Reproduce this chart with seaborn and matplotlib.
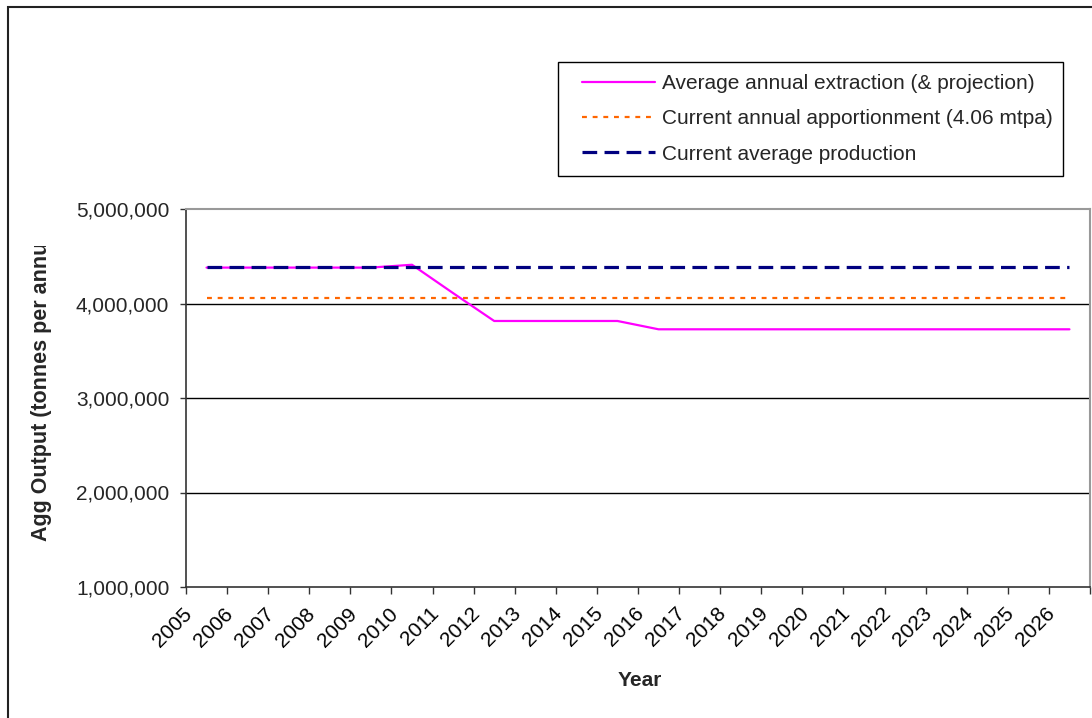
import numpy as np
import pandas as pd
import matplotlib
matplotlib.use("Agg")
import matplotlib.pyplot as plt
import matplotlib.patches as mpatches
import matplotlib.transforms as mtransforms
from matplotlib.ticker import FuncFormatter, FixedLocator
import seaborn as sns

# ---- data -------------------------------------------------------------
years = [2005, 2006, 2007, 2008, 2009, 2010, 2011, 2012, 2013, 2014, 2015,
         2016, 2017, 2018, 2019, 2020, 2021, 2022, 2023, 2024, 2025, 2026]
extraction = [4380000, 4380000, 4380000, 4380000, 4380000, 4410000, 4110000,
              3815000, 3815000, 3815000, 3815000, 3727000, 3727000, 3727000,
              3727000, 3727000, 3727000, 3727000, 3727000, 3727000, 3727000,
              3727000]
apportionment = [4060000] * len(years)
avg_production = [4390000] * len(years)

series_names = ["Average annual extraction (& projection)",
                "Current annual apportionment (4.06 mtpa)",
                "Current average production"]
y_ticks = [1000000, 2000000, 3000000, 4000000, 5000000]

# ---- style ------------------------------------------------------------
sns.set_style("white")
plt.rcParams["font.family"] = ["Liberation Sans", "DejaVu Sans"]
FS = 15

W, H = 1092, 718
fig = plt.figure(figsize=(W / 100, H / 100), dpi=100)
L, R, T, B = 186, 1090, 209, 587
ax = fig.add_axes([L / W, (H - B) / H, (R - L) / W, (B - T) / H])

idx = np.arange(len(years))
df = pd.DataFrame({"idx": idx, "extraction": extraction,
                   "apportionment": apportionment, "production": avg_production})

sns.lineplot(data=df, x="idx", y="extraction", ax=ax, color="#FF00FF",
             linewidth=1.6, label=series_names[0])
sns.lineplot(data=df, x="idx", y="apportionment", ax=ax, color="#FF6600",
             linewidth=1.6, label=series_names[1])
ax.lines[-1].set_dashes((2.2, 2.6))
sns.lineplot(data=df, x="idx", y="production", ax=ax, color="#000080",
             linewidth=2.3, label=series_names[2])
ax.lines[-1].set_dashes((4.6, 2.3))

# ---- axes -------------------------------------------------------------
ax.set_xlim(-0.5, len(years) - 0.5)
ax.set_ylim(y_ticks[0], y_ticks[-1])
ax.set_yticks(y_ticks)
ax.yaxis.set_major_formatter(FuncFormatter(lambda v, p: f"{int(v):,}"))
ax.tick_params(axis="y", which="major", direction="out", length=4, width=1,
               color="#333333", pad=8, labelsize=FS, left=True)
for yv in y_ticks[1:-1]:
    ax.axhline(yv, color="black", linewidth=1.0, zorder=0.5)

# boundaries between categories carry the tick marks
ax.xaxis.set_major_locator(FixedLocator(np.arange(len(years) + 1) - 0.5))
ax.xaxis.set_major_formatter(FuncFormatter(lambda v, p: ""))
ax.tick_params(axis="x", which="major", direction="out", length=5, width=1,
               color="#333333", bottom=True)
ax.set_xlabel("")
ax.set_ylabel("")

# category labels, rotated
offset = mtransforms.ScaledTranslation(-24 / 100, -17 / 100, fig.dpi_scale_trans)
trans = mtransforms.blended_transform_factory(ax.transData, ax.transAxes) + offset
for i, yr in enumerate(years):
    ax.text(i, 0, str(yr), transform=trans, rotation=45, rotation_mode="anchor",
            ha="right", va="top", fontsize=FS, color="black")

for side in ["left", "bottom"]:
    ax.spines[side].set_color("#333333")
    ax.spines[side].set_linewidth(1.2)
for side in ["top", "right"]:
    ax.spines[side].set_color("#999999")
    ax.spines[side].set_linewidth(1.5)
    ax.spines[side].set_visible(True)

# axis titles
fig.text(640 / W, 1 - 681 / H, "Year", ha="center", va="center",
         fontsize=FS, fontweight="bold")
ylab = fig.text(42 / W, 1 - 541 / H, "Agg Output (tonnes per annum)",
                rotation=90, ha="center", va="bottom", fontsize=15.5,
                fontweight="bold")
ylab.set_clip_box(mtransforms.Bbox([[0, 0], [180, H - 246]]))
ylab.set_clip_on(True)

# legend: entries without their own frame, boxed separately
leg = ax.legend(loc="upper left", bbox_to_anchor=(582 / W, 1 - 74 / H),
                bbox_transform=fig.transFigure, fontsize=FS, frameon=False,
                handlelength=3.5, handletextpad=0.33, labelspacing=0.78,
                borderpad=0, borderaxespad=0)
fig.patches.append(mpatches.Rectangle((558 / W, 1 - 176 / H), (1063 - 558) / W,
                                      (176 - 62) / H, transform=fig.transFigure,
                                      fill=False, edgecolor="black",
                                      linewidth=1.0))

# chart border
fig.patches.append(mpatches.Rectangle((8 / W, -0.1), 1.5, (H - 7) / H + 0.1,
                                      transform=fig.transFigure, fill=False,
                                      edgecolor="#222222", linewidth=1.5))

fig.savefig("out.png", dpi=100)
